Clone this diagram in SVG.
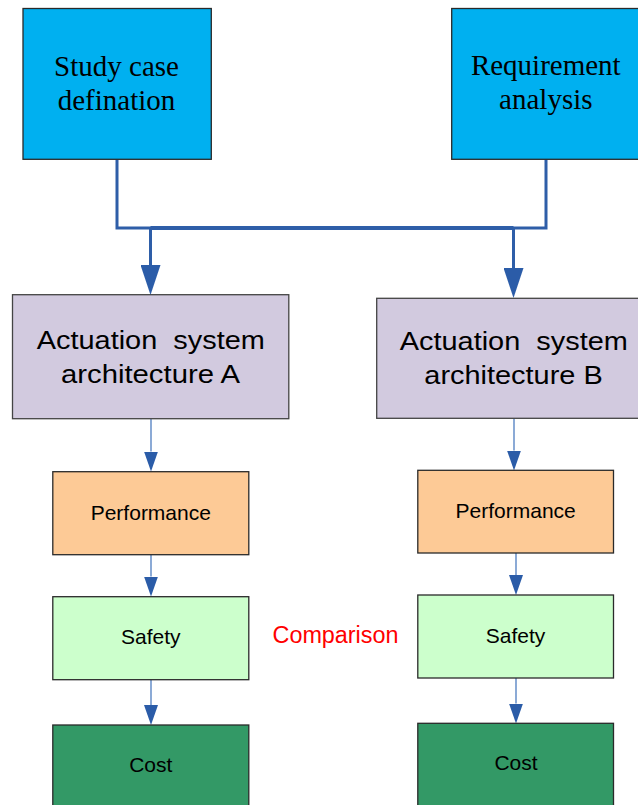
<svg xmlns="http://www.w3.org/2000/svg" width="638" height="805" viewBox="0 0 638 805">
  <style>
    .box { stroke: #2a2a2a; stroke-width: 1.3; }
    .input { fill: #00b0f0; }
    .arch { fill: #d2cadf; stroke: #444; }
    .perf { fill: #fdca96; }
    .safe { fill: #ccffcc; }
    .cost { fill: #339966; }
    .serif { font-family: "Liberation Serif", "Times New Roman", serif; font-size: 29px; fill: #000; text-anchor: middle; }
    .sans-l { font-family: "Liberation Sans", Arial, sans-serif; font-size: 26px; fill: #000; text-anchor: middle; white-space: pre; }
    .sans-s { font-family: "Liberation Sans", Arial, sans-serif; font-size: 21px; fill: #000; text-anchor: middle; }
    .main { fill: none; stroke: #2e5ea8; stroke-width: 3; }
    .bus { fill: none; stroke: #2e5ea8; stroke-width: 4; }
    .thin { fill: none; stroke: #6f95cc; stroke-width: 1.6; }
  </style>
  <defs>
    <marker id="headBig" markerUnits="userSpaceOnUse" markerWidth="30" markerHeight="20" viewBox="0 0 30 20" refX="0" refY="10" orient="auto">
      <path d="M0,0 L30,10 L0,20 z" fill="#2b5ca8"/>
    </marker>
    <marker id="headSmall" markerUnits="userSpaceOnUse" markerWidth="20" markerHeight="14" viewBox="0 0 20 14" refX="0" refY="7" orient="auto">
      <path d="M0,0 L20,7 L0,14 z" fill="#2b5ca8"/>
    </marker>
  </defs>

  <!-- connectors -->
  <g id="connectors">
    <path class="main" d="M117,159.5 V228 H546 V159.5"/>
    <path class="bus" d="M150.5,228 H513.5"/>
    <path class="main" d="M150.5,228 V265" marker-end="url(#headBig)"/>
    <path class="main" d="M513.5,228 V268" marker-end="url(#headBig)"/>
    <path class="thin" d="M151,419 V451.5" marker-end="url(#headSmall)"/>
    <path class="thin" d="M151,555 V576.5" marker-end="url(#headSmall)"/>
    <path class="thin" d="M151,680 V705" marker-end="url(#headSmall)"/>
    <path class="thin" d="M514,418.5 V450.5" marker-end="url(#headSmall)"/>
    <path class="thin" d="M516,553 V575" marker-end="url(#headSmall)"/>
    <path class="thin" d="M516,678 V703.5" marker-end="url(#headSmall)"/>
  </g>

  <g id="study-case">
    <rect class="box input" x="23" y="8.5" width="188.3" height="150.8"/>
    <text class="serif" x="116.5" y="75.5">Study case</text>
    <text class="serif" x="116.5" y="110">defination</text>
  </g>

  <g id="requirement">
    <rect class="box input" x="451.7" y="8.5" width="190" height="150.8"/>
    <text class="serif" x="545.8" y="74.5">Requirement</text>
    <text class="serif" x="545.8" y="109">analysis</text>
  </g>

  <g id="arch-a">
    <rect class="box arch" x="12.5" y="294.7" width="276.3" height="124"/>
    <text class="sans-l" x="150.8" y="349.3" textLength="228" lengthAdjust="spacingAndGlyphs" xml:space="preserve">Actuation  system</text>
    <text class="sans-l" x="150.5" y="383.3" textLength="179" lengthAdjust="spacingAndGlyphs">architecture A</text>
  </g>

  <g id="arch-b">
    <rect class="box arch" x="376.7" y="298.3" width="276" height="120"/>
    <text class="sans-l" x="513.8" y="350" textLength="228" lengthAdjust="spacingAndGlyphs" xml:space="preserve">Actuation  system</text>
    <text class="sans-l" x="513.5" y="384.3" textLength="178.4" lengthAdjust="spacingAndGlyphs">architecture B</text>
  </g>

  <g id="perf-a">
    <rect class="box perf" x="52.8" y="471.7" width="196" height="83"/>
    <text class="sans-s" x="150.8" y="519.5">Performance</text>
  </g>
  <g id="safety-a">
    <rect class="box safe" x="52.8" y="596.7" width="196" height="83"/>
    <text class="sans-s" x="150.8" y="644">Safety</text>
  </g>
  <g id="cost-a">
    <rect class="box cost" x="52.8" y="725" width="196" height="90"/>
    <text class="sans-s" x="150.8" y="772">Cost</text>
  </g>

  <g id="perf-b">
    <rect class="box perf" x="417.8" y="470.3" width="195.7" height="82.7"/>
    <text class="sans-s" x="515.7" y="518.3">Performance</text>
  </g>
  <g id="safety-b">
    <rect class="box safe" x="417.8" y="595" width="195.7" height="83"/>
    <text class="sans-s" x="515.6" y="643">Safety</text>
  </g>
  <g id="cost-b">
    <rect class="box cost" x="417.8" y="723.3" width="195.7" height="92"/>
    <text class="sans-s" x="516" y="770">Cost</text>
  </g>

  <g id="comparison">
    <text x="272.5" y="643" font-family="'Liberation Sans', Arial, sans-serif" font-size="23" fill="#ff0000" textLength="126" lengthAdjust="spacingAndGlyphs">Comparison</text>
  </g>
</svg>
